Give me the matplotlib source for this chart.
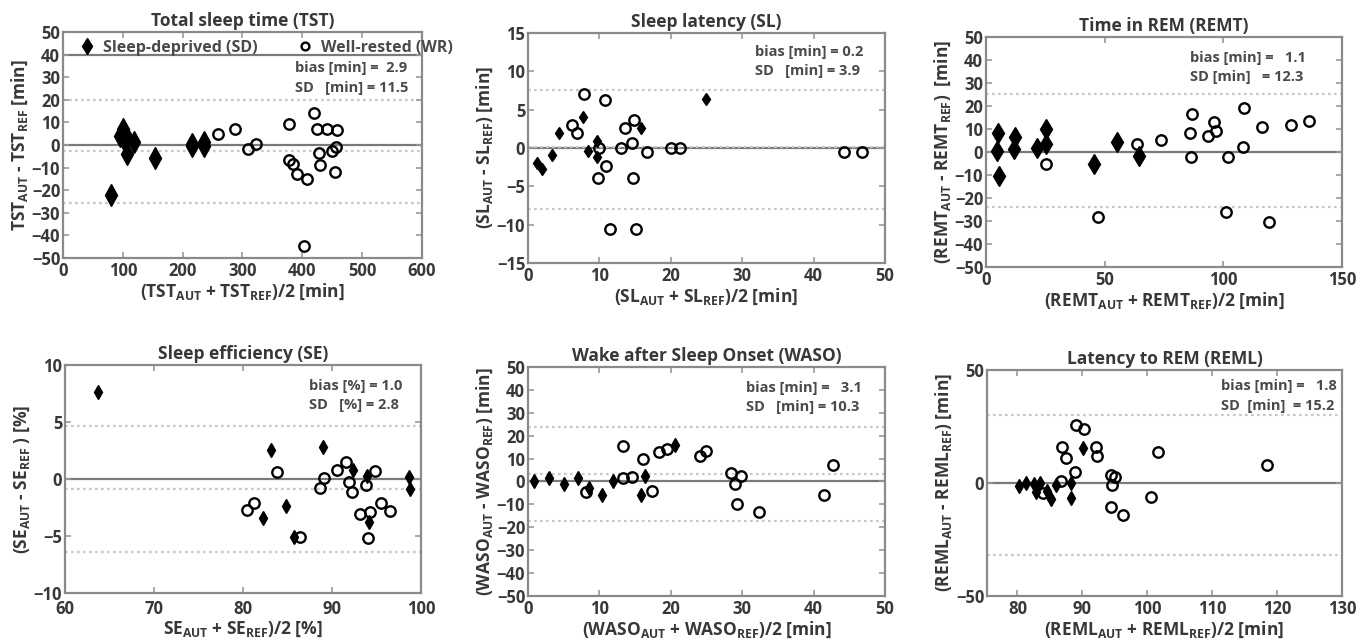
import matplotlib
matplotlib.use("Agg")
import matplotlib.pyplot as plt

plt.rcParams['font.family'] = ['Open Sans', 'DejaVu Sans']
plt.rcParams['mathtext.default'] = 'regular'

# ---------------- data ----------------
# Total sleep time
tst_sd_x = [80, 96, 101, 103, 100, 105, 119, 107, 154, 215, 215, 236, 236]
tst_sd_y = [-22.3, 4, 7, 5, 3, 3, 1.2, -3.9, -5.7, 0.5, -0.5, 1.5, -0.3]
tst_wr_x = [259, 287, 310, 323, 378, 377, 384, 391, 408, 403, 420, 425, 442, 458, 428, 429, 449, 457, 454]
tst_wr_y = [4.8, 7.2, -1.9, 0.3, 9.1, -6.5, -8.6, -12.8, -14.9, -44.8, 14.2, 7.2, 7.2, 6.5, -3.5, -8.8, -2.8, -1.0, -11.9]
tst_lines = [19.9, -2.7, -25.7]

# Sleep latency
sl_sd_x = [1.3, 1.9, 3.4, 4.3, 7.7, 8.4, 9.7, 9.7, 15.8, 25.0]
sl_sd_y = [-1.96, -2.8, -0.9, 1.96, 4.1, -0.35, 0.87, -1.2, 2.65, 6.4]
sl_wr_x = [7.8, 6.2, 6.9, 9.9, 9.8, 10.8, 11.0, 11.5, 13.1, 13.6, 14.8, 14.6, 14.7, 15.1, 16.7, 20.1, 21.3, 44.3, 46.8]
sl_wr_y = [7.1, 3.0, 2.0, 0.0, -3.9, 6.3, -2.4, -10.6, 0.0, 2.6, 3.7, 0.6, -3.9, -10.6, -0.5, 0.0, 0.0, -0.5, -0.5]
sl_lines = [7.6, 0.1, -7.96]

# Time in REM
remt_sd_x = [5.2, 4.6, 5.3, 12.2, 12.0, 21.7, 25.5, 25.5, 45.4, 55.1, 64.4]
remt_sd_y = [8.1, 0.6, -10.5, 6.7, 1.3, 1.6, 10.0, 3.5, -5.4, 4.2, -1.6]
remt_wr_x = [25.5, 47, 63.7, 73.7, 86.8, 86.1, 86.4, 93.4, 96.2, 97, 102, 101.3, 108.6, 108.2, 116.3, 119.1, 128.7, 136]
remt_wr_y = [-5.2, -28.3, 3.3, 5.2, 16.7, 8.3, -2, 6.8, 13.2, 9, -2, -26.3, 19, 2.3, 11, -30.4, 11.8, 13.5]
remt_lines = [25.1, -24.1]

# Sleep efficiency
se_sd_x = [63.7, 83.1, 82.3, 84.8, 85.7, 89.0, 92.4, 93.9, 94.2, 98.6, 98.8]
se_sd_y = [7.65, 2.5, -3.4, -2.4, -5.1, 2.8, 0.8, 0.3, -3.8, 0.2, -0.9]
se_wr_x = [80.4, 81.2, 83.8, 86.4, 88.7, 89.1, 90.6, 91.6, 91.9, 92.3, 93.1, 93.8, 94.0, 94.3, 94.8, 95.5, 96.5]
se_wr_y = [-2.7, -2.1, 0.6, -5.1, -0.8, 0.1, 0.8, 1.5, -0.3, -1.1, -3.1, -0.5, -5.2, -2.9, 0.7, -2.1, -2.8]
se_lines = [4.67, -0.92, -6.37]

# Wake after sleep onset
waso_sd_x = [0.9, 2.9, 5.1, 7.0, 8.6, 10.4, 11.9, 15.9, 16.4, 20.6]
waso_sd_y = [0, 1.7, -0.9, 1.7, -3, -5.8, 0, -5.8, 2.5, 16.1]
waso_wr_x = [8.1, 13.3, 13.3, 14.6, 16.1, 17.4, 18.4, 19.5, 24.1, 24.9, 28.5, 29.0, 29.9, 29.3, 32.3, 41.4, 42.8]
waso_wr_y = [-4.8, 15.4, 1.6, 2.0, 9.9, -4.1, 12.9, 14.0, 11.2, 13.1, 3.9, -0.9, 2.5, -10, -13.5, -6, 7.4]
waso_lines = [23.8, 3.2, -17.2]

# Latency to REM
reml_sd_x = [80.3, 81.3, 82.6, 82.8, 83.5, 84.6, 85.2, 85.9, 88.2, 88.2, 90.1]
reml_sd_y = [-1.2, 0.1, -0.6, -3.8, 0.1, -3.5, -7.2, -0.9, 0.1, -6.5, 15.3]
reml_wr_x = [84.0, 86.8, 87.5, 86.7, 88.8, 89.0, 90.3, 92.1, 92.3, 94.4, 95.0, 94.6, 94.4, 96.2, 100.6, 101.6, 118.4]
reml_wr_y = [-4.3, 15.8, 10.9, 1.0, 4.7, 25.7, 23.7, 15.8, 11.9, 3.5, 2.5, -0.9, -10.5, -14.2, -6, 13.9, 8]
reml_lines = [30.1, -32.0]

TXT = '#383838'
SPINE = '#8a8a8a'

fig = plt.figure(figsize=(13.66, 6.41), dpi=100)

def setup(rect, title, xlim, ylim, xticks, yticks, xlabel, ylabel, lines,
          sd_x, sd_y, wr_x, wr_y, sd_ms, notes, note_xy, xpad=3):
    ax = fig.add_axes(rect)
    for s in ax.spines.values():
        s.set_color(SPINE)
        s.set_linewidth(1.6)
    ax.set_xlim(*xlim)
    ax.set_ylim(*ylim)
    ax.set_xticks(xticks)
    ax.set_yticks(yticks)
    ax.tick_params(direction='in', top=True, right=True, length=4, width=1.2,
                   color='#999999', labelsize=12, labelcolor=TXT, pad=2)
    ax.tick_params(axis='x', pad=xpad)
    for lab in ax.get_xticklabels() + ax.get_yticklabels():
        lab.set_fontweight('bold')
    ax.axhline(0, color='#7a7a7a', lw=1.6, zorder=1)
    for v in lines:
        ax.axhline(v, color='#c8c8c8', lw=1.6, ls=(0, (1.2, 1.5)), zorder=1)
    h1, = ax.plot(sd_x, sd_y, ls='none', marker='d', ms=sd_ms, mfc='black',
                  mec='black', mew=1.0, zorder=3, label='Sleep-deprived (SD)')
    h2, = ax.plot(wr_x, wr_y, ls='none', marker='o', ms=7.5, mfc='none',
                  mec='black', mew=1.7, zorder=3, label='Well-rested (WR)')
    ax.set_title(title, fontsize=12.5, fontweight='bold', color=TXT, pad=4)
    ax.set_xlabel(xlabel, fontsize=12.5, fontweight='bold', color=TXT, labelpad=1)
    ax.set_ylabel(ylabel, fontsize=12.5, fontweight='bold', color=TXT, labelpad=1)
    ax.text(note_xy[0], note_xy[1], notes, transform=ax.transAxes, fontsize=10.5,
            fontweight='bold', color='#4a4a4a', va='top', ha='left', linespacing=1.5)
    return ax, h1, h2

ax1, h1, h2 = setup([0.0461, 0.5975, 0.2628, 0.3526], 'Total sleep time (TST)',
           (0, 600), (-50, 50), range(0, 601, 100), range(-50, 51, 10),
           r'(TST$_{AUT}$ + TST$_{REF}$)/2 [min]', r'TST$_{AUT}$ - TST$_{REF}$ [min]',
           tst_lines, tst_sd_x, tst_sd_y, tst_wr_x, tst_wr_y, 11,
           'bias [min] =  2.9\nSD   [min] = 11.5', (0.645, 0.87))
ax1.axhline(40, color='#7a7a7a', lw=1.6, zorder=1)
ax1.legend(handles=[h1, h2], ncol=2, loc='upper left', bbox_to_anchor=(0.0, 1.03),
           frameon=False, prop={'weight': 'bold', 'size': 11.5},
           handletextpad=0.4, columnspacing=2.4, handlelength=1.2, markerscale=0.75,
           labelcolor='#4a4a4a')

setup([0.3865, 0.5897, 0.2613, 0.3588], 'Sleep latency (SL)',
      (0, 50), (-15, 15), range(0, 51, 10), range(-15, 16, 5),
      r'(SL$_{AUT}$ + SL$_{REF}$)/2 [min]', r'(SL$_{AUT}$ - SL$_{REF}$) [min]',
      sl_lines, sl_sd_x, sl_sd_y, sl_wr_x, sl_wr_y, 6,
      'bias [min] = 0.2\nSD   [min] = 3.9', (0.635, 0.95))

setup([0.7218, 0.5835, 0.2606, 0.3588], 'Time in REM (REMT)',
      (0, 150), (-50, 50), range(0, 151, 50), range(-50, 51, 10),
      r'(REMT$_{AUT}$ + REMT$_{REF}$)/2 [min]', r'(REMT$_{AUT}$ - REMT$_{REF}$)  [min]',
      remt_lines, remt_sd_x, remt_sd_y, remt_wr_x, remt_wr_y, 10.5,
      'bias [min] =   1.1\nSD [min]   = 12.3', (0.572, 0.94))

setup([0.0476, 0.0749, 0.2606, 0.3557], 'Sleep efficiency (SE)',
      (60, 100), (-10, 10), range(60, 101, 10), range(-10, 11, 5),
      r'SE$_{AUT}$ + SE$_{REF}$)/2 [%]', r'(SE$_{AUT}$ - SE$_{REF}$ ) [%]',
      se_lines, se_sd_x, se_sd_y, se_wr_x, se_wr_y, 7,
      'bias [%] = 1.0\nSD   [%] = 2.8', (0.685, 0.94), xpad=5)

setup([0.3865, 0.0702, 0.2613, 0.3573], 'Wake after Sleep Onset (WASO)',
      (0, 50), (-50, 50), range(0, 51, 10), range(-50, 51, 10),
      r'(WASO$_{AUT}$ + WASO$_{REF}$)/2 [min]', r'(WASO$_{AUT}$ - WASO$_{REF}$) [min]',
      waso_lines, waso_sd_x, waso_sd_y, waso_wr_x, waso_wr_y, 7.5,
      'bias [min] =   3.1\nSD   [min] = 10.3', (0.612, 0.94))

setup([0.7225, 0.0702, 0.2599, 0.3526], 'Latency to REM (REML)',
      (75.3, 130), (-50, 50), range(80, 131, 10), [-50, 0, 50],
      r'(REML$_{AUT}$ + REML$_{REF}$)/2 [min]', r'(REML$_{AUT}$ - REML$_{REF}$) [min]',
      reml_lines, reml_sd_x, reml_sd_y, reml_wr_x, reml_wr_y, 7.5,
      'bias [min] =   1.8\nSD  [min]  = 15.2', (0.66, 0.96))

fig.savefig('out.png', dpi=100, facecolor='white')
